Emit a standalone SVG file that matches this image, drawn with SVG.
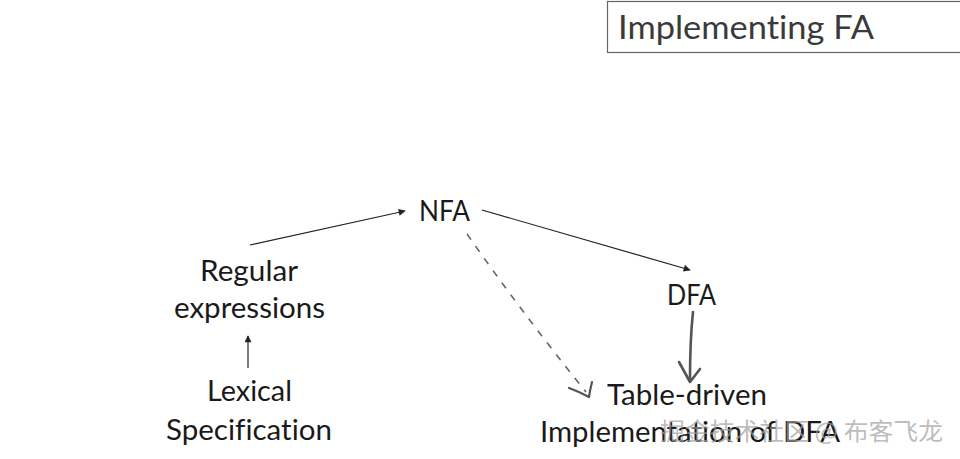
<svg xmlns="http://www.w3.org/2000/svg" width="960" height="459" viewBox="0 0 960 459">
<defs>
<style>
.t{font-family:Lato,"Open Sans","Liberation Sans",sans-serif;font-size:29px;fill:#1a1a1a;font-variant-ligatures:none}
.ti{font-family:Lato,"Open Sans","Liberation Sans",sans-serif;font-size:32px;fill:#3a3a3a;font-variant-ligatures:none}
.thin{stroke:#222;stroke-width:1.2;fill:none}
.wm{font-family:"Noto Sans CJK SC","Noto Sans",sans-serif;font-size:24px;fill:#a0a0a0;fill-opacity:0.7}
</style>
<marker id="ah" viewBox="0 0 10 10" refX="9" refY="5" markerWidth="9" markerHeight="7" markerUnits="userSpaceOnUse" orient="auto">
<path d="M0,0 L10,5 L0,10 Z" fill="#222"/>
</marker>
</defs>
<rect width="960" height="459" fill="#fff"/>
<g id="title">
<rect x="607.5" y="1.5" width="360" height="51" fill="#fff" stroke="#666" stroke-width="1.2"/>
<text class="ti" x="618" y="39" textLength="256" lengthAdjust="spacingAndGlyphs">Implementing FA</text>
</g>
<g id="connectors">
<line class="thin" x1="250" y1="245" x2="405" y2="211" marker-end="url(#ah)"/>
<line class="thin" x1="248" y1="368" x2="248" y2="336" marker-end="url(#ah)"/>
<line class="thin" x1="482" y1="210" x2="690" y2="270" marker-end="url(#ah)"/>
<path d="M467,234 Q520,310 586,392" fill="none" stroke="#666" stroke-width="1.6" stroke-dasharray="7,8"/>
<path d="M569,388 Q580,392 589,397 Q590,390 592,382" fill="none" stroke="#555" stroke-width="2.2" stroke-linecap="round" stroke-linejoin="round"/>
<path d="M693,312 Q690,340 690,380" fill="none" stroke="#555" stroke-width="2.6" stroke-linecap="round"/>
<path d="M679,362 L690,382 L700,369" fill="none" stroke="#555" stroke-width="2.6" stroke-linecap="round" stroke-linejoin="round"/>
</g>
<g id="nfa"><text class="t" x="419" y="221" textLength="51" lengthAdjust="spacingAndGlyphs">NFA</text></g>
<g id="dfa"><text class="t" x="667" y="305" textLength="49" lengthAdjust="spacingAndGlyphs">DFA</text></g>
<g id="regex">
<text class="t" x="200" y="281" textLength="98" lengthAdjust="spacingAndGlyphs">Regular</text>
<text class="t" x="174" y="318" textLength="151" lengthAdjust="spacingAndGlyphs">expressions</text>
</g>
<g id="lexical">
<text class="t" x="207" y="401" textLength="85" lengthAdjust="spacingAndGlyphs">Lexical</text>
<text class="t" x="166" y="440" textLength="166" lengthAdjust="spacingAndGlyphs">Specification</text>
</g>
<g id="table">
<text class="t" x="607" y="405" textLength="160" lengthAdjust="spacingAndGlyphs">Table-driven</text>
<text class="t" x="540" y="442" textLength="300" lengthAdjust="spacingAndGlyphs">Implementation of DFA</text>
</g>
<text class="wm" x="660" y="440" textLength="283" lengthAdjust="spacingAndGlyphs">掘金技术社区 @ 布客飞龙</text>
</svg>
